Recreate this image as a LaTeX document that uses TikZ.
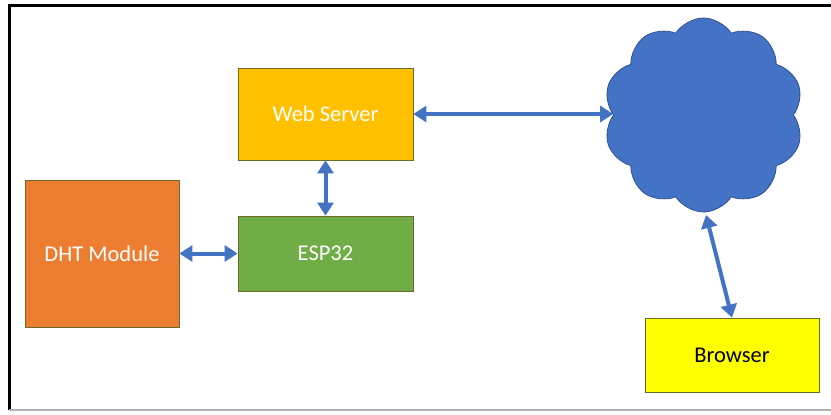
\documentclass[tikz,border=0pt]{standalone}
\usepackage{fontspec}
\setmainfont{Carlito}
\usetikzlibrary{arrows.meta,shapes.symbols}
\definecolor{wsgold}{HTML}{FFC000}
\definecolor{dhtorange}{HTML}{ED7D31}
\definecolor{espgreen}{HTML}{70AD47}
\definecolor{brwyellow}{HTML}{FFFF00}
\definecolor{linkblue}{HTML}{4472C4}
\definecolor{cloudedge}{HTML}{2F528F}
\definecolor{boxedge}{HTML}{6B6B2A}
\tikzset{
  blockbox/.style={draw=boxedge, line width=0.8pt, inner sep=0pt, font=\fontsize{22.5}{26}\selectfont, text=white},
  link/.style={draw=linkblue, line width=4pt, {Triangle[length=13pt,width=16pt]}-{Triangle[length=13pt,width=16pt]}}
}
\begin{document}
\begin{tikzpicture}[x=1pt,y=-1pt]
\useasboundingbox (0,0) rectangle (831,415);
\fill[white] (0,0) rectangle (831,415);
% frame
\draw[black, line width=3pt] (9,410) -- (9,5) -- (831,5);
\draw[gray!60, line width=1.2pt] (9,410) -- (831,410);
% boxes
\node[blockbox, fill=wsgold, minimum width=175pt, minimum height=92pt] (ws) at (325.5,114) {Web Server};
\node[blockbox, fill=espgreen, minimum width=175pt, minimum height=75pt] (esp) at (325.5,253.5) {ESP32};
\node[blockbox, fill=dhtorange, minimum width=154pt, minimum height=147pt] (dht) at (102,253.5) {DHT Module};
\node[blockbox, fill=brwyellow, text=black, minimum width=174pt, minimum height=74pt] (brw) at (732,355) {Browser};
\node[cloud, cloud puffs=10, cloud puff arc=115, aspect=1, draw=cloudedge, line width=0.8pt, fill=linkblue, minimum width=200pt, minimum height=194pt, inner sep=0pt] (net) at (703.5,115) {};
\coordinate (netbot) at (706,215);
% links
\draw[link] (ws.east) -- (ws.east -| net.west);
\draw[link] (ws.south) -- (esp.north);
\draw[link] (dht.east) -- (esp.west);
\draw[link] (netbot) -- (brw.north);
\end{tikzpicture}
\end{document}
